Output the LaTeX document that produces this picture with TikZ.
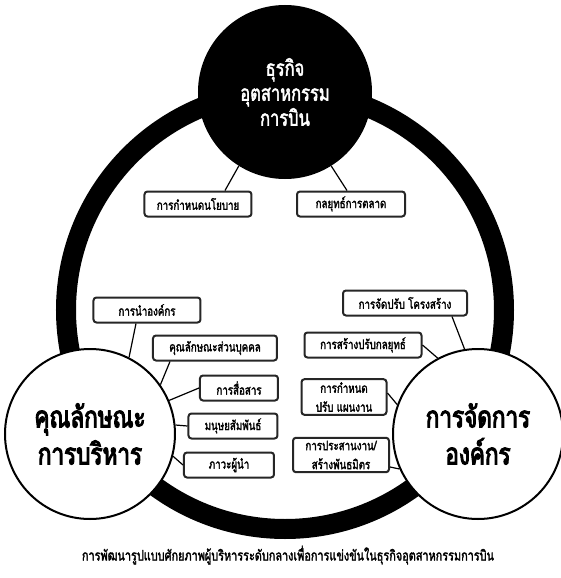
\documentclass[tikz,border=0pt]{standalone}
\usepackage{fontspec}
\newfontfamily\thaifont[Script=Thai, FakeStretch=0.75, FakeBold=2]{Loma}
\newfontfamily\thaiheavy[Script=Thai, FakeStretch=0.75, FakeBold=3.5]{Loma}
\tikzstyle{hub} = [circle, minimum size=174pt, fill=black, text=white, align=center, font=\thaifont\fontsize{22}{25}\selectfont]
\tikzstyle{pillar} = [circle, minimum size=170pt, draw=black, line width=2pt, fill=white, align=center, font=\thaiheavy\fontsize{30}{37}\selectfont]
\tikzstyle{topic} = [rectangle, rounded corners=3pt, minimum height=25pt, inner xsep=6pt, text centered, draw=black!85, line width=2pt, fill=white, font=\thaifont\fontsize{13}{19}\selectfont]
\tikzstyle{topic2} = [topic, align=center, inner ysep=3pt]
\tikzstyle{title} = [font=\thaifont\fontsize{14.5}{17}\selectfont]
\tikzstyle{ring} = [line width=20pt]
\tikzstyle{link} = [line width=1.2pt]

\begin{document}
\begin{tikzpicture}[node distance=2cm]
\useasboundingbox (-285pt,92pt) rectangle (275pt,-486pt);
\coordinate (centre) at (0pt,-218pt);
\draw [ring] (centre) circle (219pt);
\node (biz) [hub] {ธุรกิจ\\อุตสาหกรรม\\การบิน};
\node (mgmt) [pillar, below of=biz, node distance=342pt, xshift=-195pt] {คุณลักษณะ\\การบริหาร};
\node (org) [pillar, below of=biz, node distance=342pt, xshift=193pt] {การจัดการ\\องค์กร};
% boxes round the top
\node (policy) [topic, minimum width=107pt, below of=biz, node distance=112pt, xshift=-87pt] {การกำหนดนโยบาย};
\node (market) [topic, minimum width=108pt, below of=biz, node distance=112pt, xshift=66pt] {กลยุทธ์การตลาด};
% boxes round the left
\node (lead) [topic, minimum width=107pt, above of=mgmt, node distance=124pt, xshift=57pt] {การนำองค์กร};
\node (personal) [topic, minimum width=124pt, above of=mgmt, node distance=86pt, xshift=125pt] {คุณลักษณะส่วนบุคคล};
\node (comm) [topic, minimum width=78pt, above of=mgmt, node distance=46pt, xshift=149pt] {การสื่อสาร};
\node (human) [topic, minimum width=89pt, right of=mgmt, node distance=143pt, yshift=8pt] {มนุษยสัมพันธ์};
\node (leader) [topic, minimum width=90pt, right of=mgmt, node distance=139pt, yshift=-31pt] {ภาวะผู้นำ};
% boxes round the right
\node (struct) [topic, minimum width=124pt, above of=org, node distance=131pt, xshift=-73pt] {การจัดปรับ โครงสร้าง};
\node (strat) [topic, minimum width=117pt, above of=org, node distance=89pt, xshift=-115pt] {การสร้างปรับกลยุทธ์};
\node (plan) [topic2, minimum width=85pt, left of=org, node distance=134pt, yshift=37pt] {การกำหนด\\ปรับ แผนงาน};
\node (ally) [topic2, minimum width=96pt, left of=org, node distance=137pt, yshift=-21pt] {การประสานงาน/\\สร้างพันธมิตร};
\node (caption) [title, below of=biz, node distance=463pt, xshift=3pt] {การพัฒนารูปแบบศักยภาพผู้บริหารระดับกลางเพื่อการแข่งขันในธุรกิจอุตสาหกรรมการบิน};
\draw [link] ([xshift=27pt]policy.north) -- (biz.238);
\draw [link] ([xshift=-4pt]market.north) -- (biz.302);
\draw [link] ([xshift=-11pt]lead.south) -- (mgmt.63);
\draw [link] ([xshift=-45pt]personal.south) -- (mgmt.35);
\draw [link] (comm.west) -- (mgmt.23);
\draw [link] (human.west) -- (mgmt.6);
\draw [link] (leader.west) -- (mgmt.345);
\draw [link] ([xshift=47pt]struct.south) -- (org.99);
\draw [link] (strat.east) -- (org.118);
\draw [link] ([yshift=4pt]plan.east) -- (org.160);
\draw [link] ([yshift=-12pt]ally.east) -- (org.204);
\end{tikzpicture}
\end{document}
